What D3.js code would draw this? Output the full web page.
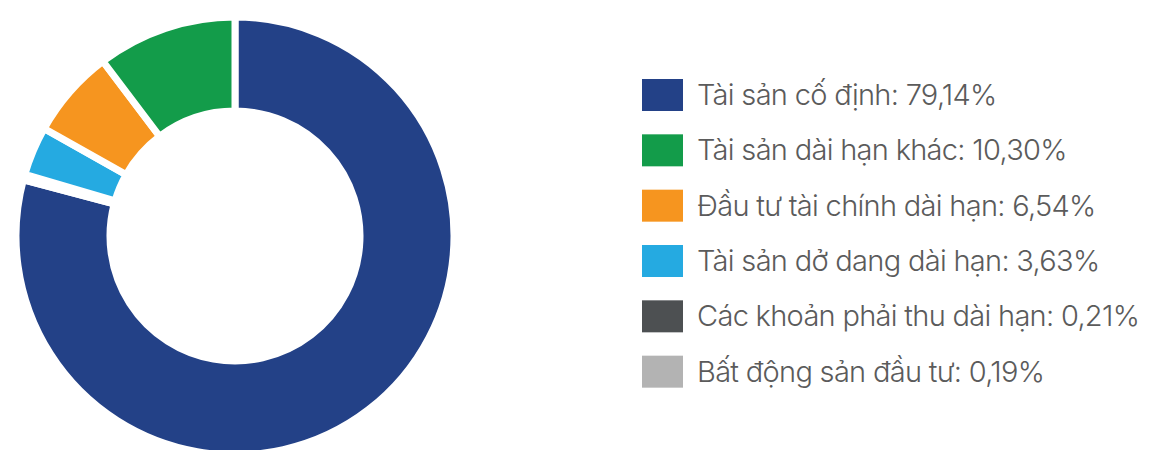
<!DOCTYPE html>
<html>
<head>
<meta charset="utf-8">
<script src="https://cdn.jsdelivr.net/npm/d3@7"></script>
<style>
  body { margin: 0; background: #fff; }
</style>
</head>
<body>
<div id="chart"></div>
<script>
// data
var labels = ["Tài sản cố định", "Các khoản phải thu dài hạn", "Bất động sản đầu tư",
              "Tài sản dở dang dài hạn", "Đầu tư tài chính dài hạn", "Tài sản dài hạn khác"];
var values = [79.14, 0.21, 0.19, 3.63, 6.54, 10.30];
var colors = ["#234187", "#4d5052", "#b3b3b3", "#25aae1", "#f6951f", "#139c4a"];
// legend order
var legendOrder = ["Tài sản cố định", "Tài sản dài hạn khác", "Đầu tư tài chính dài hạn",
                   "Tài sản dở dang dài hạn", "Các khoản phải thu dài hạn", "Bất động sản đầu tư"];

var width = 1151, height = 450;

var svg = d3.select("#chart")
  .append("svg")
    .attr("width", width)
    .attr("height", height);

var data = labels.map(function(l, i) { return {label: l, value: values[i], color: colors[i]}; });

var pie = d3.pie()
  .value(function(d) { return d.value; })
  .sort(null);

var arc = d3.arc()
  .innerRadius(125)
  .outerRadius(219);

var g = svg.append("g")
  .attr("transform", "translate(235,236)");

g.selectAll("path")
  .data(pie(data))
  .enter()
  .append("path")
    .attr("d", arc)
    .attr("fill", function(d) { return d.data.color; })
    .attr("stroke", "#fff")
    .attr("stroke-width", 7);

// legend
var legend = svg.append("g")
  .attr("transform", "translate(642,79)");

var rowY = d3.scaleBand()
  .domain(legendOrder)
  .range([0, 332])
  .paddingInner(0);

var byLabel = {};
data.forEach(function(d) { byLabel[d.label] = d; });

var rows = legend.selectAll(".row")
  .data(legendOrder)
  .enter()
  .append("g")
    .attr("class", "row")
    .attr("transform", function(d) { return "translate(0," + rowY(d) + ")"; });

rows.append("rect")
  .attr("width", 41)
  .attr("height", 32)
  .attr("fill", function(d) { return byLabel[d].color; });

rows.append("text")
  .attr("x", 55)
  .attr("y", 26)
  .style("font-family", "Inter, sans-serif")
  .style("font-weight", 300)
  .style("font-size", "29px")
  .style("letter-spacing", "-0.7px")
  .style("fill", "#5b5b5b")
  .text(function(d) {
    return d + ": " + byLabel[d].value.toFixed(2).replace(".", ",") + "%";
  });
</script>
</body>
</html>
